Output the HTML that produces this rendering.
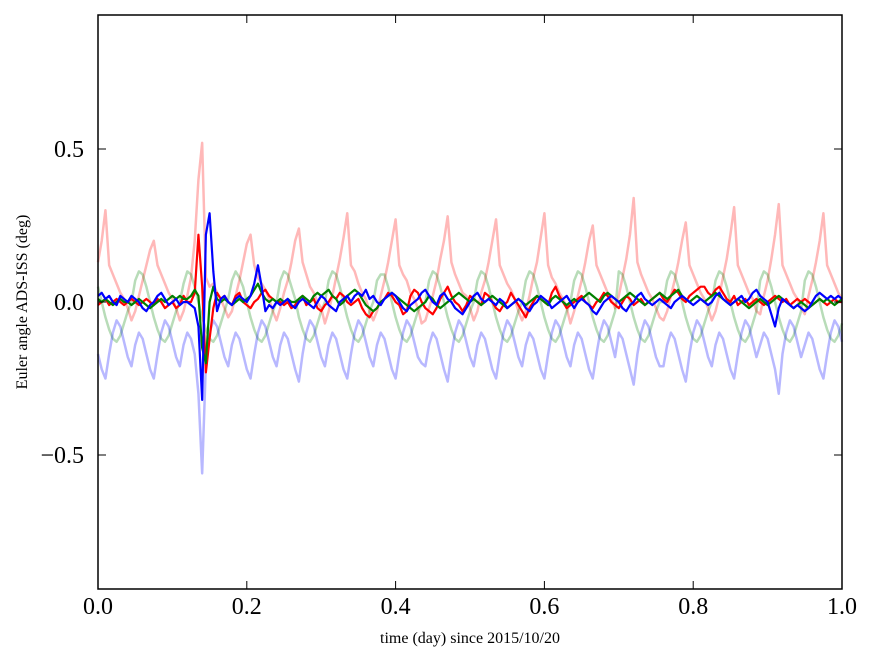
<!DOCTYPE html>
<html><head><meta charset="utf-8"><style>
body{margin:0;background:#fff;}
svg{display:block;font-family:"Liberation Serif",serif;}
</style></head><body>
<svg id="chart" width="875" height="662" viewBox="0 0 875 662">
<rect x="0" y="0" width="875" height="662" fill="#fff"/>
<g id="series"></g>
<rect x="98" y="15" width="744" height="574" fill="none" stroke="#000" stroke-width="1.5"/>
<g id="ticks"></g>
<text x="470" y="643" font-size="16" text-anchor="middle">time (day) since 2015/10/20</text>
<text x="0" y="0" font-size="16" text-anchor="middle" transform="translate(27,302) rotate(-90)">Euler angle ADS-ISS (deg)</text>
</svg>
<script>
const tStep = 0.005;
const xTicks = [0.0,0.2,0.4,0.6,0.8,1.0];
const xTickLabels = ["0.0","0.2","0.4","0.6","0.8","1.0"];
const yTicks = [0.5,0.0,-0.5];
const yTickLabels = ["0.5","0.0","\u22120.5"];
const lightRed = [0.13,0.20,0.30,0.12,0.09,0.06,0.03,0.01,-0.02,
-0.06,-0.03,0.02,0.07,0.12,0.17,0.20,0.12,0.09,0.06,0.03,0.01,-0.02,
-0.06,-0.03,0.02,0.08,0.20,0.40,0.52,0.08,0.05,0.06,0.03,0.01,-0.02,
-0.05,-0.03,0.02,0.07,0.13,0.19,0.22,0.12,0.08,0.06,0.04,0.01,-0.03,
-0.06,-0.02,0.03,0.07,0.13,0.20,0.24,0.13,0.09,0.05,0.03,0.00,-0.02,
-0.07,-0.03,0.02,0.08,0.14,0.21,0.29,0.12,0.10,0.06,0.03,0.01,-0.03,
-0.06,-0.03,0.02,0.07,0.13,0.20,0.27,0.12,0.09,0.07,0.03,0.01,-0.02,
-0.07,
-0.06,-0.02,0.02,0.07,0.14,0.20,0.28,0.13,0.09,0.06,0.03,0.02,-0.02,
-0.06,-0.03,0.03,0.07,0.13,0.20,0.27,0.12,0.09,0.06,0.04,0.01,-0.03,
-0.06,-0.03,0.02,0.08,0.13,0.21,0.29,0.12,0.08,0.06,0.03,0.01,-0.02,
-0.07,-0.03,0.02,0.07,0.13,0.20,0.25,0.12,0.09,0.06,0.03,0.01,-0.02,
0.02,0.08,0.14,0.22,0.34,0.13,0.09,0.06,0.03,0.01,-0.02,-0.05,
-0.06,-0.03,0.02,0.07,0.13,0.20,0.26,0.12,0.09,0.06,0.03,0.01,-0.02,
-0.06,-0.03,0.02,0.08,0.14,0.22,0.31,0.12,0.09,0.06,0.03,0.01,-0.03,
-0.04,0.02,0.07,0.14,0.22,0.32,0.12,0.09,0.06,0.03,0.01,-0.02,
-0.04,0.02,0.07,0.13,0.20,0.29,0.12,0.09,0.06,0.03,0.01];
const lightGreen = [0.05,0.0,-0.05,-0.09,-0.12,-0.13,-0.11,-0.07,-0.03,
0.0,0.07,0.1,0.09,0.05,0.0,-0.05,-0.09,-0.12,-0.13,-0.11,-0.07,-0.03,
0.0,0.06,0.1,0.09,0.05,0.0,-0.05,-0.09,-0.12,-0.13,-0.11,-0.07,-0.03,
0.01,0.07,0.1,0.08,0.05,0.0,-0.05,-0.09,-0.12,-0.13,-0.11,-0.07,-0.03,
0.0,0.07,0.1,0.09,0.05,0.01,-0.05,-0.09,-0.12,-0.13,-0.11,-0.07,-0.03,
0.0,0.07,0.1,0.09,0.05,0.0,-0.05,-0.09,-0.12,-0.13,-0.11,-0.07,-0.03,
0.0,0.07,0.09,0.09,0.05,0.0,-0.05,-0.09,-0.12,-0.13,-0.11,-0.07,-0.03,
-0.01,
0.0,0.07,0.1,0.09,0.05,0.0,-0.05,-0.09,-0.12,-0.13,-0.11,-0.07,-0.03,
0.0,0.07,0.1,0.09,0.05,0.0,-0.05,-0.09,-0.12,-0.13,-0.11,-0.07,-0.03,
0.0,0.07,0.1,0.09,0.05,0.0,-0.05,-0.09,-0.12,-0.13,-0.11,-0.07,-0.03,
0.0,0.07,0.1,0.09,0.05,0.0,-0.05,-0.09,-0.12,-0.13,-0.11,-0.07,-0.03,
0.1,0.09,0.05,0.0,-0.05,-0.09,-0.12,-0.13,-0.11,-0.07,-0.03,0.0,
0.0,0.07,0.1,0.09,0.05,0.0,-0.05,-0.09,-0.12,-0.13,-0.11,-0.07,-0.03,
0.0,0.07,0.1,0.09,0.05,0.0,-0.05,-0.09,-0.12,-0.13,-0.11,-0.07,-0.03,
0.07,0.1,0.09,0.05,0.0,-0.05,-0.09,-0.12,-0.13,-0.11,-0.07,-0.03,
0.07,0.1,0.09,0.05,0.0,-0.05,-0.09,-0.12,-0.13,-0.11,-0.07];
const lightBlue = [-0.17,-0.22,-0.25,-0.17,-0.1,-0.06,-0.08,-0.13,-0.18,
-0.21,-0.14,-0.1,-0.12,-0.17,-0.22,-0.25,-0.17,-0.1,-0.06,-0.08,-0.13,-0.18,
-0.21,-0.14,-0.1,-0.12,-0.17,-0.3,-0.56,-0.2,-0.1,-0.06,-0.08,-0.13,-0.18,
-0.21,-0.14,-0.1,-0.12,-0.17,-0.22,-0.25,-0.17,-0.1,-0.06,-0.08,-0.13,-0.18,
-0.21,-0.14,-0.1,-0.12,-0.17,-0.22,-0.26,-0.17,-0.1,-0.06,-0.08,-0.13,-0.18,
-0.21,-0.14,-0.1,-0.12,-0.17,-0.22,-0.25,-0.17,-0.1,-0.06,-0.08,-0.13,-0.18,
-0.21,-0.14,-0.1,-0.12,-0.17,-0.22,-0.25,-0.17,-0.1,-0.06,-0.08,-0.13,-0.18,
-0.2,
-0.21,-0.14,-0.1,-0.12,-0.17,-0.22,-0.26,-0.17,-0.1,-0.06,-0.08,-0.13,-0.18,
-0.21,-0.14,-0.1,-0.12,-0.17,-0.22,-0.25,-0.17,-0.1,-0.06,-0.08,-0.13,-0.18,
-0.21,-0.14,-0.1,-0.12,-0.17,-0.22,-0.25,-0.17,-0.1,-0.06,-0.08,-0.13,-0.18,
-0.21,-0.14,-0.1,-0.12,-0.17,-0.22,-0.25,-0.17,-0.1,-0.06,-0.08,-0.13,-0.18,
-0.1,-0.12,-0.17,-0.22,-0.27,-0.17,-0.1,-0.06,-0.08,-0.13,-0.18,-0.21,
-0.21,-0.14,-0.1,-0.12,-0.17,-0.22,-0.26,-0.17,-0.1,-0.06,-0.08,-0.13,-0.18,
-0.21,-0.14,-0.1,-0.12,-0.17,-0.22,-0.25,-0.17,-0.1,-0.06,-0.08,-0.13,-0.18,
-0.14,-0.1,-0.12,-0.17,-0.22,-0.3,-0.17,-0.1,-0.06,-0.08,-0.13,-0.18,
-0.14,-0.1,-0.12,-0.17,-0.22,-0.25,-0.17,-0.1,-0.06,-0.08,-0.13];
const boldRed = [-0.01,0.0,0.01,-0.01,0.0,0.01,0.0,-0.01,0.0,0.01,
0.0,-0.01,0.0,0.01,0.0,-0.01,0.01,0.0,-0.02,-0.01,
0.0,-0.02,-0.01,0.02,0.0,0.0,0.03,0.22,0.05,-0.23,
-0.12,-0.02,0.03,0.01,0.02,0.0,-0.01,0.02,0.03,0.0,
-0.01,-0.02,0.0,0.01,0.03,0.04,0.02,0.01,0.0,0.0,
-0.01,0.0,-0.02,-0.01,0.01,0.02,-0.01,0.0,0.01,-0.02,
-0.03,-0.01,0.0,0.02,0.01,0.03,0.02,0.0,-0.01,0.0,
0.01,-0.02,-0.04,-0.05,-0.03,-0.02,0.0,0.01,0.03,0.02,
0.0,-0.01,-0.04,-0.03,0.02,0.04,0.03,0.0,-0.02,-0.03,
-0.04,-0.02,0.01,0.03,0.05,0.02,0.0,-0.01,-0.03,-0.01,
0.02,0.01,0.0,-0.01,0.03,0.02,0.0,-0.02,-0.03,-0.01,
0.0,0.03,0.01,-0.01,-0.03,-0.05,-0.02,0.0,0.02,0.01,
0.0,-0.01,0.03,0.05,0.02,0.0,-0.02,-0.01,0.0,0.01,
0.02,0.0,-0.01,-0.02,0.0,0.01,0.03,0.02,0.0,-0.01,
-0.02,0.0,0.02,0.01,-0.01,0.0,0.01,-0.01,0.0,0.01,
0.02,0.03,0.01,0.0,0.02,0.04,0.03,0.01,0.0,0.02,
0.03,0.04,0.05,0.05,0.03,0.02,0.04,0.05,0.03,0.01,
0.0,0.02,-0.01,0.0,0.01,-0.01,0.0,0.01,0.0,-0.01,
0.0,0.01,0.02,0.01,0.0,0.01,-0.01,0.0,0.01,0.0,
0.01,0.0,-0.01,0.0,0.01,0.0,-0.01,0.0,0.01,0.0,0.0];
const boldGreen = [0.01,0.0,0.01,0.0,-0.01,0.0,0.01,0.0,0.0,-0.01,
0.0,0.01,0.0,-0.01,-0.02,-0.01,0.0,0.01,0.0,0.01,
0.02,0.01,0.02,0.01,0.01,0.02,0.04,0.02,-0.15,-0.2,
0.0,0.05,0.01,0.0,0.01,0.0,-0.01,0.0,0.01,0.0,
0.01,0.02,0.04,0.06,0.03,0.01,0.0,0.01,0.0,0.01,
0.0,0.01,0.0,0.0,0.01,0.02,0.01,0.0,0.02,0.03,
0.02,0.03,0.04,0.02,0.01,-0.01,0.0,0.02,0.03,0.04,
0.03,0.01,-0.01,-0.02,-0.03,-0.02,0.0,0.01,0.02,0.03,
0.02,0.01,0.0,-0.01,-0.02,-0.03,-0.02,-0.01,0.0,0.02,
0.01,-0.01,-0.02,-0.01,0.0,0.01,0.02,0.03,0.02,0.01,
0.0,0.01,0.0,-0.01,0.0,0.01,0.02,0.01,0.0,-0.01,
-0.02,-0.01,0.0,0.01,0.0,-0.01,0.0,0.01,0.02,0.01,
0.0,-0.01,0.01,0.02,0.01,0.0,-0.01,0.0,0.01,0.0,
0.01,0.02,0.03,0.02,0.01,0.0,0.02,0.03,0.02,0.01,
0.0,0.01,0.02,0.03,0.02,0.01,0.0,-0.01,0.0,0.01,
0.02,0.03,0.02,0.01,0.02,0.03,0.04,0.02,0.01,0.0,
0.01,0.02,0.01,0.0,0.01,0.02,0.03,0.02,0.01,0.0,
-0.01,0.0,0.01,0.0,-0.01,-0.02,-0.01,0.0,0.01,0.0,
-0.01,0.0,0.01,0.02,0.01,0.0,-0.01,-0.02,-0.01,0.0,
-0.01,-0.02,-0.01,0.0,0.01,0.0,0.01,0.0,-0.01,0.0,0.01];
const boldBlue = [0.02,0.03,0.01,0.02,0.0,-0.01,0.02,0.01,0.0,0.02,
0.01,0.0,-0.02,-0.03,-0.01,0.0,0.02,0.03,0.01,-0.01,
0.0,0.01,-0.01,0.0,0.0,-0.01,-0.02,-0.08,-0.32,0.22,
0.29,0.1,-0.03,0.01,0.02,0.0,-0.01,0.01,0.02,0.01,
0.0,0.02,0.06,0.12,0.05,-0.03,-0.01,-0.02,0.0,-0.01,
0.0,0.01,-0.01,-0.02,0.0,0.01,0.0,-0.01,-0.02,0.0,
0.02,0.01,-0.01,-0.02,-0.03,0.0,0.01,0.02,0.0,0.02,
0.03,0.02,0.04,0.01,0.02,0.0,-0.01,0.01,0.02,0.03,
0.02,0.0,-0.02,-0.03,-0.01,0.0,0.01,0.03,0.04,0.02,
0.0,-0.01,0.02,0.03,0.01,0.0,-0.02,-0.03,-0.04,-0.02,
0.0,0.02,0.03,0.01,0.0,0.01,0.0,-0.01,0.01,0.0,
-0.02,-0.01,0.0,0.01,0.0,-0.02,-0.03,-0.01,0.0,0.02,
0.01,0.0,-0.02,-0.01,0.0,0.01,0.02,0.0,-0.02,0.0,
0.01,0.0,-0.01,-0.03,-0.04,-0.02,0.0,0.01,0.02,0.01,
0.0,-0.02,-0.03,-0.01,0.0,0.02,0.03,0.01,0.0,-0.01,
0.0,0.01,0.0,-0.01,-0.02,0.0,0.01,0.02,0.01,0.0,
-0.01,0.0,0.01,0.0,-0.01,0.0,0.02,0.03,0.01,0.0,
-0.01,0.0,0.01,0.02,0.0,0.01,0.03,0.04,0.02,0.01,
0.0,-0.04,-0.08,-0.02,0.01,0.0,-0.01,-0.02,-0.01,-0.02,
-0.03,-0.02,0.0,0.02,0.03,0.02,0.01,0.02,0.01,0.02,0.01];

const NS = "http://www.w3.org/2000/svg";
const X0 = 98, X1 = 842, YZ = 302, YS = 306;
function xs(t){ return X0 + (X1 - X0) * t; }
function ys(v){ return YZ - v * YS; }
function mk(tag, parent){ const e = document.createElementNS(NS, tag); parent.appendChild(e); return e; }

const sg = document.getElementById('series');
function drawSeries(vals, color, opacity, width, name){
  const pts = vals.map((v,i)=> xs(i*tStep).toFixed(2) + "," + ys(v).toFixed(2)).join(" ");
  const pl = mk('polyline', sg);
  pl.setAttribute('points', pts);
  pl.setAttribute('fill', 'none');
  pl.setAttribute('stroke', color);
  pl.setAttribute('stroke-opacity', opacity);
  pl.setAttribute('stroke-width', width);
  pl.setAttribute('stroke-linejoin', 'round');
  
  
}
drawSeries(lightRed, '#ff0000', 0.28, 2.5, 'light-red-series');
drawSeries(lightGreen, '#008000', 0.28, 2.5, 'light-green-series');
drawSeries(lightBlue, '#0000ff', 0.28, 2.5, 'light-blue-series');
drawSeries(boldRed, '#ff0000', 1, 2.2, 'red-series');
drawSeries(boldGreen, '#008000', 1, 2.2, 'green-series');
drawSeries(boldBlue, '#0000ff', 1, 2.2, 'blue-series');

const tg = document.getElementById('ticks');
xTicks.forEach((t,i)=>{
  const x = xs(t);
  [[589,581],[15,23]].forEach(([a,b])=>{
    const l = mk('line', tg);
    l.setAttribute('x1', x); l.setAttribute('x2', x);
    l.setAttribute('y1', a); l.setAttribute('y2', b);
    l.setAttribute('stroke', '#000'); l.setAttribute('stroke-width', '1');
    
    
  });
  const tx = mk('text', tg);
  tx.setAttribute('x', x); tx.setAttribute('y', 614);
  tx.setAttribute('font-size', '24'); tx.setAttribute('text-anchor', 'middle');
  tx.textContent = xTickLabels[i];
  
  
});
yTicks.forEach((v,i)=>{
  const y = ys(v);
  [[98,106],[842,834]].forEach(([a,b])=>{
    const l = mk('line', tg);
    l.setAttribute('x1', a); l.setAttribute('x2', b);
    l.setAttribute('y1', y); l.setAttribute('y2', y);
    l.setAttribute('stroke', '#000'); l.setAttribute('stroke-width', '1');
    
    
  });
  const tx = mk('text', tg);
  tx.setAttribute('x', 84); tx.setAttribute('y', y + 8);
  tx.setAttribute('font-size', '24'); tx.setAttribute('text-anchor', 'end');
  tx.textContent = yTickLabels[i];
  
  
});
</script>
</body></html>
